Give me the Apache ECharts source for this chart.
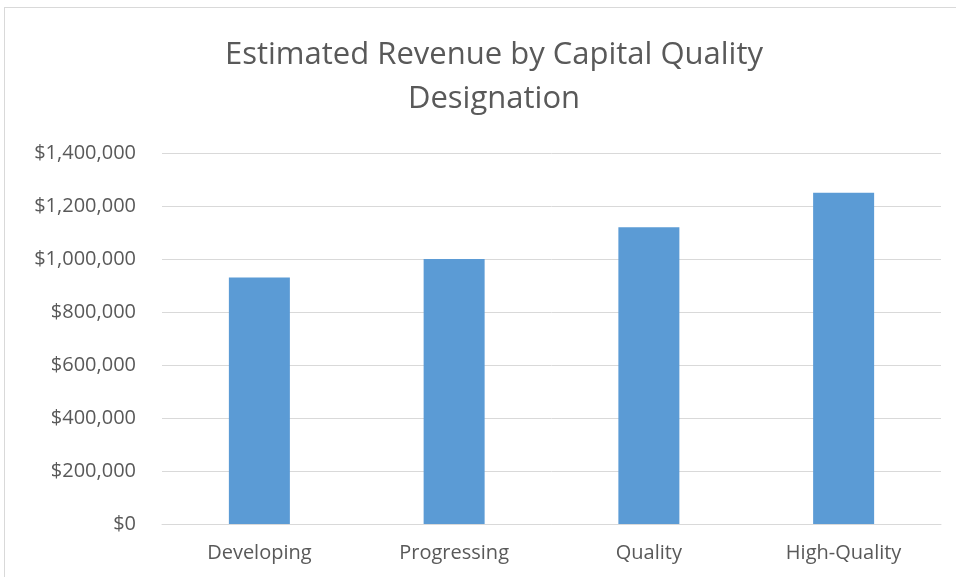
<!DOCTYPE html>
<html>
<head>
<meta charset="utf-8">
<script src="https://cdn.jsdelivr.net/npm/echarts@6/dist/echarts.min.js"></script>
<style>
    html, body { margin: 0; padding: 0; background: #fff; }
    #frame {
        position: absolute; left: 4px; top: 7px; width: 960px; height: 580px;
        border-left: 1px solid #d9d9d9; border-top: 1px solid #d9d9d9;
    }
    #chart { position: absolute; left: 0; top: 0; width: 956px; height: 577px; }
</style>
</head>
<body>
<div id="frame"></div>
<div id="chart"></div>
<script>
// data
const categories = ['Developing', 'Progressing', 'Quality', 'High-Quality'];
const revenue = [930000, 1000000, 1120000, 1250000];
const yTicks = { min: 0, max: 1400000, interval: 200000 };

const textColor = '#595959';
const fontFamily = '"Open Sans", "Noto Sans", sans-serif';

const chart = echarts.init(document.getElementById('chart'));

function money(v) {
    return '$' + v.toLocaleString('en-US');
}

const option = {
    animation: false,
    title: {
        text: 'Estimated Revenue by Capital Quality\nDesignation',
        left: 489,
        top: 28,
        textAlign: 'center',
        textStyle: {
            color: textColor,
            fontFamily: fontFamily,
            fontWeight: 'normal',
            fontSize: 31,
            lineHeight: 44
        }
    },
    grid: {
        left: 162,
        right: 15,
        top: 153,
        bottom: 53
    },
    xAxis: {
        type: 'category',
        data: categories,
        axisTick: { show: false },
        axisLine: { lineStyle: { color: '#d9d9d9', width: 1 } },
        axisLabel: {
            color: textColor,
            fontFamily: fontFamily,
            fontSize: 20,
            margin: 19
        }
    },
    yAxis: {
        type: 'value',
        min: yTicks.min,
        max: yTicks.max,
        interval: yTicks.interval,
        axisLine: { show: false },
        axisTick: { show: false },
        splitLine: { lineStyle: { color: '#d9d9d9', width: 1 } },
        axisLabel: {
            color: textColor,
            fontFamily: fontFamily,
            fontSize: 20,
            margin: 26,
            formatter: money
        }
    },
    series: [
        {
            type: 'bar',
            data: revenue,
            barWidth: 61,
            itemStyle: {
                color: '#5b9bd5'
            }
        }
    ]
};

chart.setOption(option);
</script>
</body>
</html>
